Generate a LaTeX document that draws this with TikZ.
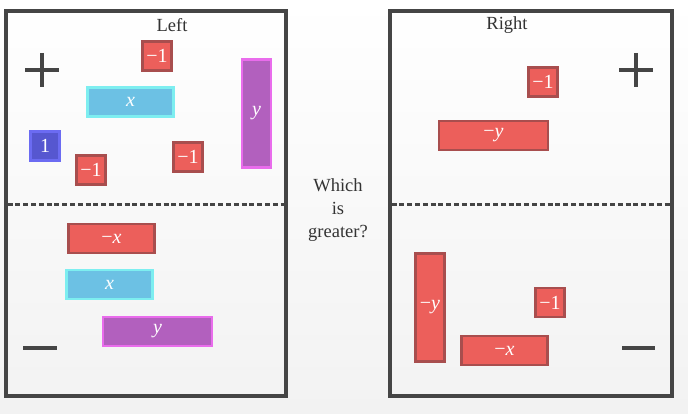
\documentclass[tikz,border=0pt]{standalone}
\usepackage{fontspec}
\setmainfont{Liberation Serif}
\begin{document}
\begin{tikzpicture}[x=1pt,y=-1pt,
  panel/.style={draw=boxgray, line width=3.2pt},
  divider/.style={draw=boxgray, line width=3pt, dash pattern=on 5pt off 2.8pt},
  sign/.style={draw=boxgray, line width=4.6pt},
  label/.style={text=textgray, font=\fontsize{18.5}{23}\selectfont, align=center},
  tile/.style={draw, line width=2.4pt, text=white, inner sep=0pt, font=\fontsize{20}{22}\selectfont},
  neg/.style={tile, fill=negred, draw=negredb},
  posx/.style={tile, fill=xcyan, draw=xcyanb},
  posy/.style={tile, fill=ypurp, draw=ypurpb},
  one/.style={tile, fill=oneblue, draw=onebb},
  unit/.style={minimum width=29pt, minimum height=29pt},
  xh/.style={minimum width=86pt, minimum height=29pt},
  yh/.style={minimum width=109pt, minimum height=29pt},
  yv/.style={minimum width=29pt, minimum height=108pt}]
\definecolor{boxgray}{HTML}{454545}
\definecolor{textgray}{HTML}{333333}
\definecolor{negred}{HTML}{EC5F5B}
\definecolor{negredb}{HTML}{A84E4E}
\definecolor{xcyan}{HTML}{6CC1E4}
\definecolor{xcyanb}{HTML}{7DEEF0}
\definecolor{ypurp}{HTML}{B260BE}
\definecolor{ypurpb}{HTML}{E96CEC}
\definecolor{oneblue}{HTML}{5657D0}
\definecolor{onebb}{HTML}{6B6BF2}
\definecolor{bgtop}{HTML}{FFFFFF}
\definecolor{bgbot}{HTML}{F2F2F2}
\shade[top color=bgtop, bottom color=bgbot] (0,0) rectangle (688,414);
\useasboundingbox (0,0) rectangle (688,414);
% panels
\draw[panel] (6,11) rectangle (286,396);
\draw[panel] (390,11) rectangle (672,396);
\draw[divider] (7.6,205) -- (284.4,205);
\draw[divider] (391.6,205) -- (670.4,205);
% labels
\node[label] (lefttitle) at (172,25) {Left};
\node[label] (righttitle) at (507,25) {Right};
\node[label] (question) at (338,210) {Which\\is\\greater?};
% signs
\draw[sign] (25,70) -- (59,70);
\draw[sign] (42,53) -- (42,87);
\draw[sign] (619,70) -- (653,70);
\draw[sign] (636,53) -- (636,87);
\draw[sign, line width=4pt] (23,348) -- (57,348);
\draw[sign, line width=4pt] (622,348) -- (655,348);
% left positive tiles
\node[neg, unit] (lm1a) at (157,56) {−1};
\node[posx, xh] (lx) at (130.5,102) {\itshape x};
\node[posy, yv] (ly) at (256.5,113.5) {\itshape y};
\node[one, unit] (lone) at (45,146) {1};
\node[neg, unit] (lm1b) at (91,170) {−1};
\node[neg, unit] (lm1c) at (188,157) {−1};
% left negative tiles
\node[neg, xh] (lnx) at (111.5,238.5) {−\textit{x}};
\node[posx, xh] (lx2) at (109.5,284.5) {\itshape x};
\node[posy, yh] (ly2) at (157.5,331.5) {\itshape y};
% right positive tiles
\node[neg, unit] (rm1a) at (543,82) {−1};
\node[neg, yh] (rny) at (493.5,135.5) {−\textit{y}};
% right negative tiles
\node[neg, yv] (rny2) at (430,307.5) {−\textit{y}};
\node[neg, unit] (rm1b) at (550,302.5) {−1};
\node[neg, xh] (rnx) at (504.5,350.5) {−\textit{x}};
\end{tikzpicture}
\end{document}
